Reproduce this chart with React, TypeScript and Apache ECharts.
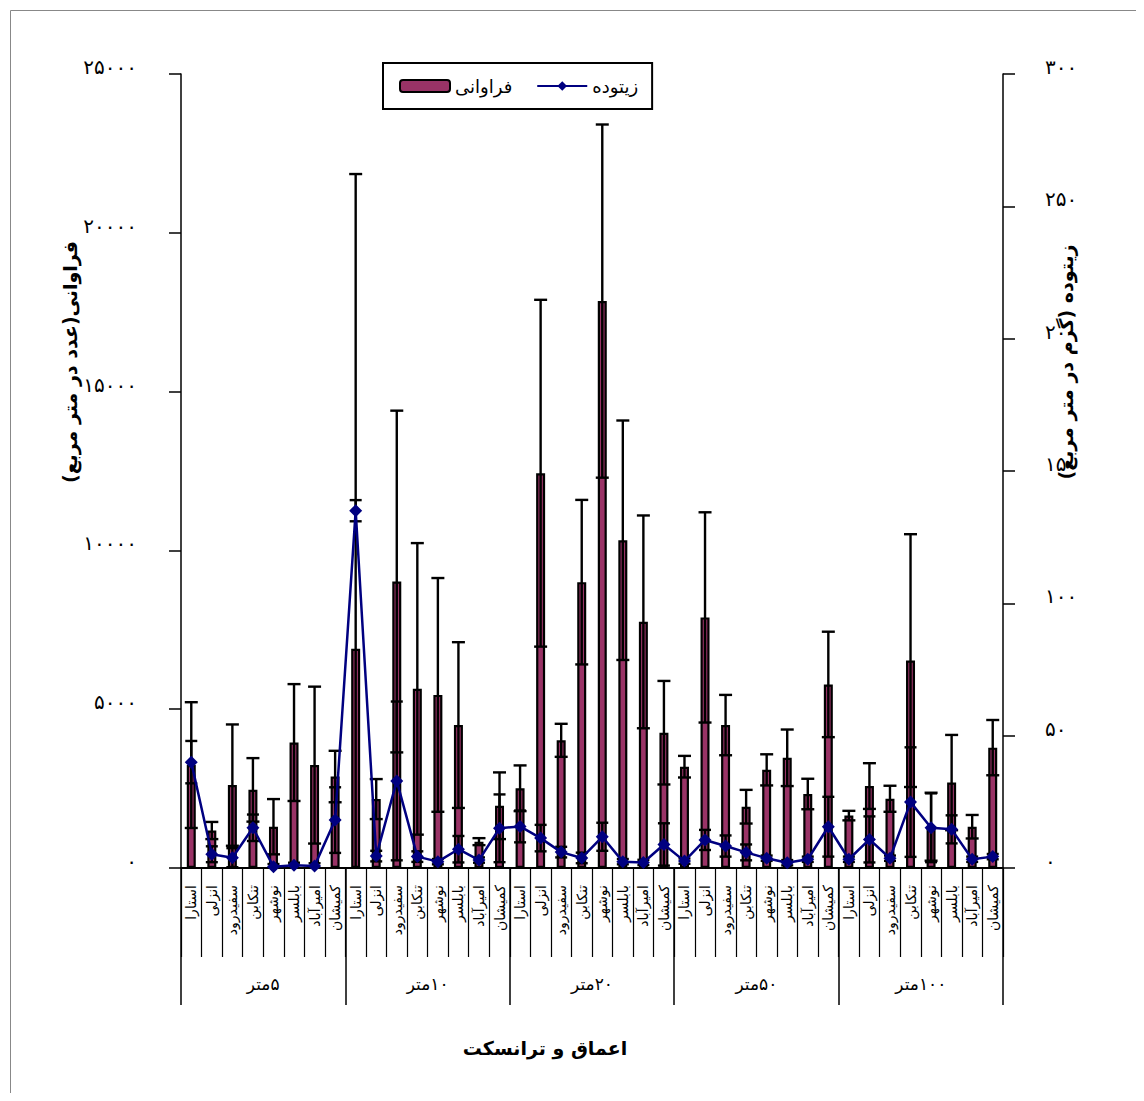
import React, { useEffect, useRef } from "react";
import * as echarts from "echarts";

const transects = ["استارا", "انزلی", "سفیدرود", "تنکابن", "نوشهر", "بابلسر", "امیرآباد", "کمیشان"];
const depths = ["\u200F۵متر", "\u200F۱۰متر", "\u200F۲۰متر", "\u200F۵۰متر", "\u200F۱۰۰متر"];
const categories = depths.flatMap(() => transects);

// abundance (n / m2) – left axis
const abundance = [
  3240, 1180, 2610, 2460, 1300, 3950, 3240, 2880,
  6900, 2170, 9020, 5640, 5450, 4500, 830, 1960,
  2510, 12430, 4020, 9000, 17850, 10320, 7750, 4260,
  3190, 7890, 4500, 1930, 3090, 3470, 2330, 5780,
  1650, 2580, 2180, 6530, 1300, 2690, 1300, 3790,
];
const abundanceErr = [
  1980, 270, 1910, 1000, 870, 1840, 2470, 810,
  14950, 630, 5380, 4590, 3680, 2610, 110, 1050,
  720, 5460, 520, 2590, 5560, 3770, 3350, 1630,
  340, 3310, 950, 530, 490, 890, 480, 1660,
  150, 720, 410, 3980, 1070, 1500, 370, 870,
];
// biomass (g / m2) – right axis
const biomass = [
  40, 5.2, 3.9, 15.2, 0.5, 1.0, 0.8, 18.1,
  135, 4.5, 32.9, 4.3, 2.4, 7.1, 3.0, 15.0,
  15.7, 11.3, 6.0, 3.8, 11.8, 2.4, 2.1, 8.9,
  2.6, 10.6, 8.3, 5.9, 3.7, 2.0, 3.3, 15.6,
  3.3, 10.8, 3.7, 24.9, 15.2, 14.6, 3.3, 4.3,
];
const biomassErr = [
  8, 3, 3.6, 5, 1, 1, 1, 12.4,
  4, 2, 30, 2, 1, 5, 1, 12.8,
  6, 5, 2, 2, 5.3, 1, 1, 8,
  1, 3.8, 4, 3, 1, 1, 1, 11.3,
  1, 8.7, 1, 20.7, 13, 5.3, 1, 1,
];

const leftTicks = { min: 0, max: 25000, interval: 5000 };
const rightTicks = { min: 0, max: 300, interval: 50 };

const FONT = "DejaVu Sans";
const faDigits = "۰۱۲۳۴۵۶۷۸۹";
const toFa = (v: number) => String(v).replace(/\d/g, (d) => faDigits[Number(d)]);

function errorRenderer(capHalf: number) {
  return (params: any, api: any) => {
    const x = api.value(0);
    const v = api.value(1);
    const e = api.value(2);
    const lowVal = Math.max(v - e, 0);
    const top = api.coord([x, v + e]);
    const bot = api.coord([x, lowVal]);
    const style = { stroke: "#000", lineWidth: 2.4 };
    const children: any[] = [
      { type: "line", shape: { x1: top[0], y1: top[1], x2: bot[0], y2: bot[1] }, style },
      { type: "line", shape: { x1: top[0] - capHalf, y1: top[1], x2: top[0] + capHalf, y2: top[1] }, style },
    ];
    if (v - e > 0) {
      children.push({ type: "line", shape: { x1: bot[0] - capHalf, y1: bot[1], x2: bot[0] + capHalf, y2: bot[1] }, style });
    }
    return { type: "group", children };
  };
}

export default function App() {
  const ref = useRef<HTMLDivElement>(null);
  useEffect(() => {
    if (!ref.current) return;
    const chart = echarts.init(ref.current, null, { renderer: "svg" });
    chart.setOption({
      animation: false,
      backgroundColor: "#fff",
      grid: { left: 173, right: 133, top: 66, bottom: 225 },
      legend: {
        data: ["فراوانی", "زیتوده"],
        left: 375,
        top: 55,
        orient: "horizontal",
        borderColor: "#000",
        borderWidth: 2,
        padding: [14, 14, 14, 16],
        itemGap: 24,
        itemWidth: 50,
        itemHeight: 12,
        textStyle: { fontFamily: FONT, fontSize: 18, color: "#000" },
      },
      xAxis: [
        {
          type: "category",
          data: categories,
          position: "bottom",
          axisLine: { show: true, lineStyle: { color: "#000", width: 2 } },
          axisTick: { show: true, interval: 0, length: 89, lineStyle: { color: "#000", width: 1.2 } },
          axisLabel: { interval: 0, rotate: 90, margin: 17, fontSize: 14, color: "#000", fontFamily: FONT },
          splitLine: { show: false },
        },
        {
          type: "category",
          data: depths,
          position: "bottom",
          axisLine: { show: false },
          axisTick: { show: true, interval: 0, length: 137, lineStyle: { color: "#000", width: 1.5 } },
          axisLabel: { interval: 0, margin: 107, fontSize: 17, color: "#000", fontFamily: FONT },
          splitLine: { show: false },
        },
      ],
      yAxis: [
        {
          type: "value",
          position: "left",
          ...leftTicks,
          axisLine: { show: true, lineStyle: { color: "#000", width: 1.5 } },
          axisTick: { show: true, length: 12, lineStyle: { color: "#000", width: 1.5 } },
          splitLine: { show: false },
          axisLabel: {
            formatter: (v: number) => toFa(v),
            margin: 44,
            fontSize: 20,
            color: "#000",
            fontFamily: FONT,
            verticalAlign: "bottom",
            lineHeight: 14,
          },
        },
        {
          type: "value",
          position: "right",
          ...rightTicks,
          axisLine: { show: true, lineStyle: { color: "#000", width: 1.5 } },
          axisTick: { show: true, length: 12, lineStyle: { color: "#000", width: 1.5 } },
          splitLine: { show: false },
          axisLabel: {
            formatter: (v: number) => toFa(v),
            margin: 42,
            fontSize: 20,
            color: "#000",
            fontFamily: FONT,
            verticalAlign: "bottom",
            lineHeight: 14,
          },
        },
      ],
      series: [
        {
          name: "فراوانی",
          type: "bar",
          xAxisIndex: 0,
          yAxisIndex: 0,
          data: abundance,
          barWidth: 9,
          itemStyle: { color: "#993366", borderColor: "#000", borderWidth: 2.2 },
          z: 2,
        },
        {
          name: "abundanceError",
          type: "custom",
          xAxisIndex: 0,
          yAxisIndex: 0,
          data: abundance.map((v, i) => [i, v, abundanceErr[i]]),
          encode: { x: 0, y: 1 },
          renderItem: errorRenderer(6.5),
          z: 3,
          silent: true,
        },
        {
          name: "biomassError",
          type: "custom",
          xAxisIndex: 0,
          yAxisIndex: 1,
          data: biomass.map((v, i) => [i, v, biomassErr[i]]),
          encode: { x: 0, y: 1 },
          renderItem: errorRenderer(6),
          z: 3,
          silent: true,
        },
        {
          name: "زیتوده",
          type: "line",
          xAxisIndex: 0,
          yAxisIndex: 1,
          data: biomass,
          symbol: "diamond",
          symbolSize: 13,
          lineStyle: { color: "#000080", width: 2.5 },
          itemStyle: { color: "#000080" },
          z: 5,
        },
      ],
      graphic: [
        {
          type: "rect",
          left: 0,
          top: 0,
          shape: { width: 1127, height: 1084 },
          style: { fill: "none", stroke: "#888", lineWidth: 1 },
          silent: true,
        },
        {
          type: "text",
          x: 62,
          y: 354,
          rotation: Math.PI / 2,
          style: {
            text: "\u200Fفراوانی(عدد در متر مربع)\u200F",
            fontFamily: FONT,
            fontSize: 19,
            fontWeight: "bold",
            fill: "#000",
            align: "center",
            verticalAlign: "middle",
          },
        },
        {
          type: "text",
          x: 1058,
          y: 354,
          rotation: Math.PI / 2,
          style: {
            text: "\u200Fزیتوده (گرم در متر مربع)\u200F",
            fontFamily: FONT,
            fontSize: 19,
            fontWeight: "bold",
            fill: "#000",
            align: "center",
            verticalAlign: "middle",
          },
        },
        {
          type: "text",
          x: 537,
          y: 1040,
          style: {
            text: "اعماق و ترانسکت",
            fontFamily: FONT,
            fontSize: 19,
            fontWeight: "bold",
            fill: "#000",
            align: "center",
            verticalAlign: "middle",
          },
        },
      ],
    });
    return () => chart.dispose();
  }, []);
  return <div ref={ref} style={{ width: 1128, height: 1085 }} />;
}
